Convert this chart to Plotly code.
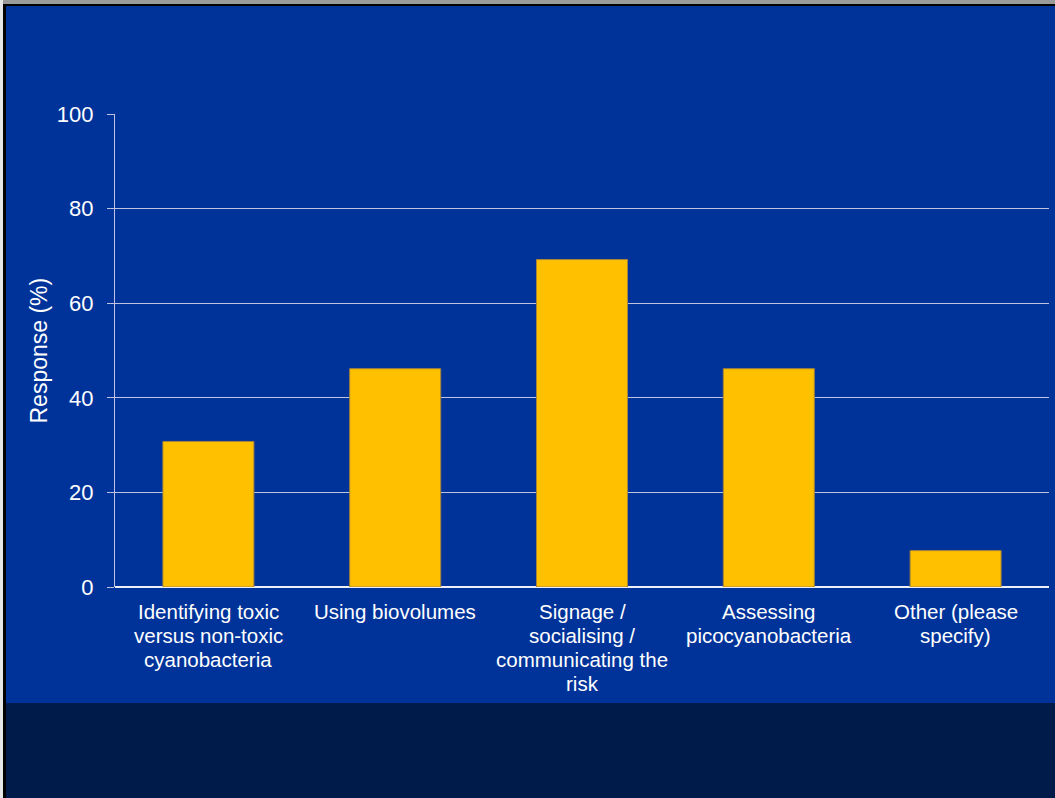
import plotly.graph_objects as go

# Survey responses (% of respondents)
categories = [
    "Identifying toxic<br>versus non-toxic<br>cyanobacteria",
    "Using biovolumes",
    "Signage /<br>socialising /<br>communicating the<br>risk",
    "Assessing<br>picocyanobacteria",
    "Other (please<br>specify)",
]
responses = [30.77, 46.15, 69.23, 46.15, 7.69]
y_ticks = [0, 20, 40, 60, 80, 100]
y_title = "Response (%)"

W, H = 1055, 798
ML, MR, MT, MB = 115, 6, 114, 211
PLOT_W = W - ML - MR
PLOT_H = H - MT - MB

SLIDE_BLUE = "#003399"
BAND_NAVY = "#001a4a"
BAR_GOLD = "#ffc000"
GRID = "#bcc4e0"
FONT = "Liberation Sans, Arial, sans-serif"


def px_x(px):
    return (px - ML) / PLOT_W


def px_y(py):
    return (H - MB - py) / PLOT_H


fig = go.Figure(
    go.Bar(
        x=list(range(len(categories))),
        y=responses,
        marker=dict(color=BAR_GOLD, line=dict(color="#a8843a", width=1)),
        width=0.487,
        hoverinfo="skip",
    )
)

# category labels, one text line at a time under each bar
line_step = 24
for i, label in enumerate(categories):
    for j, line in enumerate(label.split("<br>")):
        fig.add_annotation(
            x=i, y=0, xref="x", yref="y",
            text=line, showarrow=False,
            yanchor="middle", xanchor="center",
            yshift=-(24 + line_step * j),
            font=dict(family=FONT, size=20.5, color="white"),
        )

# rotated y-axis title
fig.add_annotation(
    x=px_x(38), y=50, xref="paper", yref="y",
    text=y_title, showarrow=False, textangle=-90,
    xanchor="center", yanchor="middle",
    font=dict(family=FONT, size=23, color="white"),
)

shapes = [
    # dark footer band of the slide
    dict(type="rect", xref="paper", yref="paper", layer="below",
         x0=px_x(0), x1=px_x(W), y0=px_y(703), y1=px_y(H + 2),
         fillcolor=BAND_NAVY, line=dict(width=0)),
    # frame along the top and left edges
    dict(type="rect", xref="paper", yref="paper", layer="above",
         x0=px_x(0), x1=px_x(W), y0=px_y(4), y1=px_y(-2),
         fillcolor="#9a9a9a", line=dict(width=0)),
    dict(type="rect", xref="paper", yref="paper", layer="above",
         x0=px_x(0), x1=px_x(W), y0=px_y(6), y1=px_y(4),
         fillcolor="#000000", line=dict(width=0)),
    dict(type="rect", xref="paper", yref="paper", layer="above",
         x0=px_x(-2), x1=px_x(3), y0=px_y(H + 2), y1=px_y(0),
         fillcolor="#e6e6e6", line=dict(width=0)),
    dict(type="rect", xref="paper", yref="paper", layer="above",
         x0=px_x(3), x1=px_x(6), y0=px_y(H + 2), y1=px_y(4),
         fillcolor="#000000", line=dict(width=0)),
]

fig.update_layout(
    width=W, height=H,
    margin=dict(l=ML, r=MR, t=MT, b=MB, pad=0),
    paper_bgcolor=SLIDE_BLUE,
    plot_bgcolor=SLIDE_BLUE,
    showlegend=False,
    shapes=shapes,
    font=dict(family=FONT, color="white"),
    xaxis=dict(
        range=[-0.5, len(categories) - 0.5],
        showticklabels=False, showgrid=False, showline=False,
        zeroline=False, ticks="", fixedrange=True,
    ),
    yaxis=dict(
        range=[0, 100], tickvals=y_ticks,
        showgrid=True, gridcolor=GRID, gridwidth=1,
        zeroline=True, zerolinecolor="#eef0f8", zerolinewidth=1.5,
        showline=True, linecolor=GRID, linewidth=1.2,
        ticks="outside", ticklen=7, tickcolor=GRID, tickwidth=1,
        tickfont=dict(family=FONT, size=22, color="white"),
        ticklabelstandoff=9,
        automargin=False, fixedrange=True,
    ),
)

fig.write_html("out.html")
